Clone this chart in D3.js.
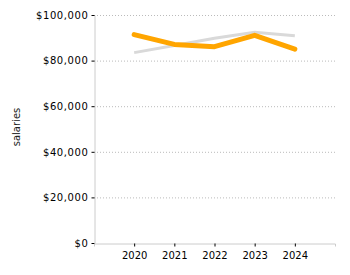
<!DOCTYPE html>
<html>
<head>
<meta charset="utf-8">
<script src="https://cdn.jsdelivr.net/npm/d3@7"></script>
<style>
  body { margin: 0; background: #fff; }
  svg text { font-family: "DejaVu Sans", Verdana, sans-serif; fill: #000; }
  .grid line { stroke: #bbb; stroke-dasharray: 1,2; }
  .domain { stroke: #ccc; }
</style>
</head>
<body>
<div id="chart"></div>
<script>
// data
var years = [2020, 2021, 2022, 2023, 2024];
var salaryA = [83500, 86600, 89800, 92400, 90900];   // grey series
var salaryB = [91400, 87100, 86100, 91100, 85000];   // orange series
var yTicks = [0, 20000, 40000, 60000, 80000, 100000];

var width = 350, height = 275;
var margin = {top: 15, right: 15, bottom: 32, left: 94};

var svg = d3.select("#chart").append("svg")
    .attr("width", width)
    .attr("height", height);

var x = d3.scalePoint()
    .domain(years)
    .range([margin.left, width - margin.right])
    .padding(1);

var y = d3.scaleLinear()
    .domain([0, 100000])
    .range([height - margin.bottom, margin.top]);

// grid
svg.append("g")
    .attr("class", "grid")
    .selectAll("line")
    .data(yTicks.slice(1))
    .enter().append("line")
    .attr("x1", margin.left)
    .attr("x2", width - margin.right)
    .attr("y1", function(d){ return y(d) + 0.5; })
    .attr("y2", function(d){ return y(d) + 0.5; });

var fmt = d3.format("$,");

var yAxis = svg.append("g")
    .attr("transform", "translate(" + (margin.left + 0.5) + ",0)")
    .call(d3.axisLeft(y).tickValues(yTicks).tickFormat(fmt).tickSize(3).tickSizeOuter(0).tickPadding(3));
yAxis.selectAll("text").style("font-size", "10px").style("letter-spacing", "0.6px");

var xAxis = svg.append("g")
    .attr("transform", "translate(0," + (height - margin.bottom + 0.5) + ")")
    .call(d3.axisBottom(x).tickSize(3).tickSizeOuter(3).tickPadding(5));
xAxis.selectAll("text").style("font-size", "10px");
yAxis.selectAll(".tick line").attr("stroke", "#000");
xAxis.selectAll(".tick line").attr("stroke", "#000");

// y label
svg.append("text")
    .attr("transform", "translate(20,127) rotate(-90)")
    .attr("text-anchor", "middle")
    .style("font-size", "10px")
    .style("fill", "#222")
    .text("salaries");

var line = d3.line()
    .x(function(d, i){ return x(years[i]); })
    .y(function(d){ return y(d); });

svg.append("path")
    .datum(salaryA)
    .attr("fill", "none")
    .attr("stroke", "#d9d9d9")
    .attr("stroke-width", 3)
    .attr("d", line);

svg.append("path")
    .datum(salaryB)
    .attr("fill", "none")
    .attr("stroke", "#ffa500")
    .attr("stroke-width", 5)
    .attr("stroke-linecap", "round")
    .attr("stroke-linejoin", "round")
    .attr("d", line);
</script>
</body>
</html>
